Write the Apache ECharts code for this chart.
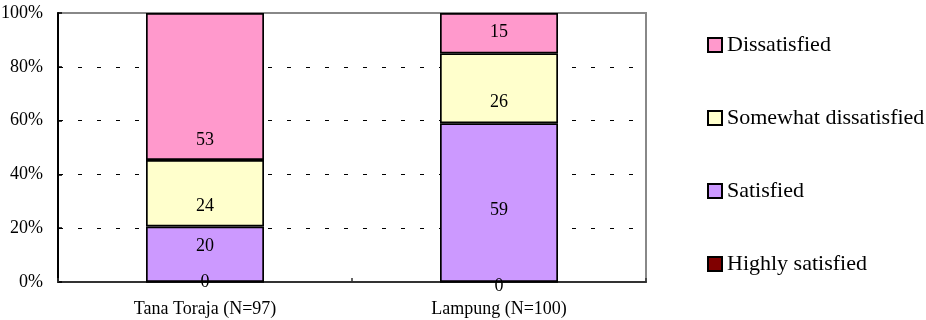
<!DOCTYPE html>
<html><head><meta charset="utf-8">
<script src="https://cdn.jsdelivr.net/npm/echarts@6/dist/echarts.min.js"></script>
<style>html,body{margin:0;padding:0;background:#fff}#c{width:926px;height:320px}</style>
</head><body><div id="c"></div>
<script>
const categories = ['Tana Toraja (N=97)', 'Lampung (N=100)'];
const highlySatisfied = [0, 0];
const satisfied = [20, 59];
const somewhatDissatisfied = [24, 26];
const dissatisfied = [53, 15];
const yTicks = [0, 20, 40, 60, 80, 100];

const seriesNames = ['Highly satisfied', 'Satisfied', 'Somewhat dissatisfied', 'Dissatisfied'];
const seriesValues = [highlySatisfied, satisfied, somewhatDissatisfied, dissatisfied];
const colors = ['#800000', '#CC99FF', '#FFFFCC', '#FF99CC'];
// label vertical nudges (px) per series per category, matching the reference's label placement
const labelNudges = [[0, 4], [-7.6, 8], [12.6, 14], [53.3, -1]];

const totals = categories.map((_, i) => seriesValues.reduce((s, arr) => s + arr[i], 0));
const FONT = "'Liberation Serif', 'Times New Roman', serif";

const series = seriesNames.map((name, s) => ({
  name: name,
  type: 'bar',
  stack: 'total',
  barWidth: 118,
  itemStyle: { color: colors[s], borderColor: '#000', borderWidth: 1.7 },
  emphasis: { disabled: true },
  label: {
    show: true,
    position: 'inside',
    fontFamily: FONT,
    fontSize: 18,
    color: '#000',
    formatter: p => String(seriesValues[s][p.dataIndex])
  },
  data: seriesValues[s].map((v, i) => ({
    value: v / totals[i] * 100,
    label: { offset: [0, labelNudges[s][i]] }
  }))
}));

const chart = echarts.init(document.getElementById('c'), null, { renderer: 'canvas' });
chart.setOption({
  animation: false,
  backgroundColor: '#fff',
  grid: { left: 58, right: 280, top: 13, bottom: 38, outerBoundsMode: 'none', containLabel: false, show: true, borderColor: '#888', borderWidth: 2, backgroundColor: 'transparent' },
  legend: {
    orient: 'vertical',
    left: 707,
    top: 34,
    padding: 0,
    itemWidth: 14,
    itemHeight: 14,
    itemGap: 51,
    icon: 'rect',
    selectedMode: false,
    data: seriesNames.slice().reverse(),
    textStyle: { fontFamily: FONT, fontSize: 22, color: '#000', lineHeight: 22 }
  },
  xAxis: {
    type: 'category',
    data: categories,
    axisLine: { show: true, lineStyle: { color: '#333', width: 2 } },
    axisTick: { show: true, inside: true, length: 4, lineStyle: { color: '#333', width: 1.5 } },
    axisLabel: { margin: 18, fontFamily: FONT, fontSize: 18, color: '#000' },
    splitLine: { show: false }
  },
  yAxis: {
    type: 'value',
    min: yTicks[0],
    max: yTicks[yTicks.length - 1],
    interval: yTicks[1] - yTicks[0],
    axisLine: { show: true, lineStyle: { color: '#000', width: 2 } },
    axisTick: { show: true, inside: true, length: 4, lineStyle: { color: '#000', width: 1.5 } },
    axisLabel: { margin: 15, fontFamily: FONT, fontSize: 18, color: '#000', formatter: '{value}%' },
    splitLine: { show: true, lineStyle: { color: ['#000', '#000', '#000', '#000', '#000', 'rgba(0,0,0,0)'], width: 1, type: [4, 15], dashOffset: -1 } }
  },
  series: series
});
</script>
</body></html>
